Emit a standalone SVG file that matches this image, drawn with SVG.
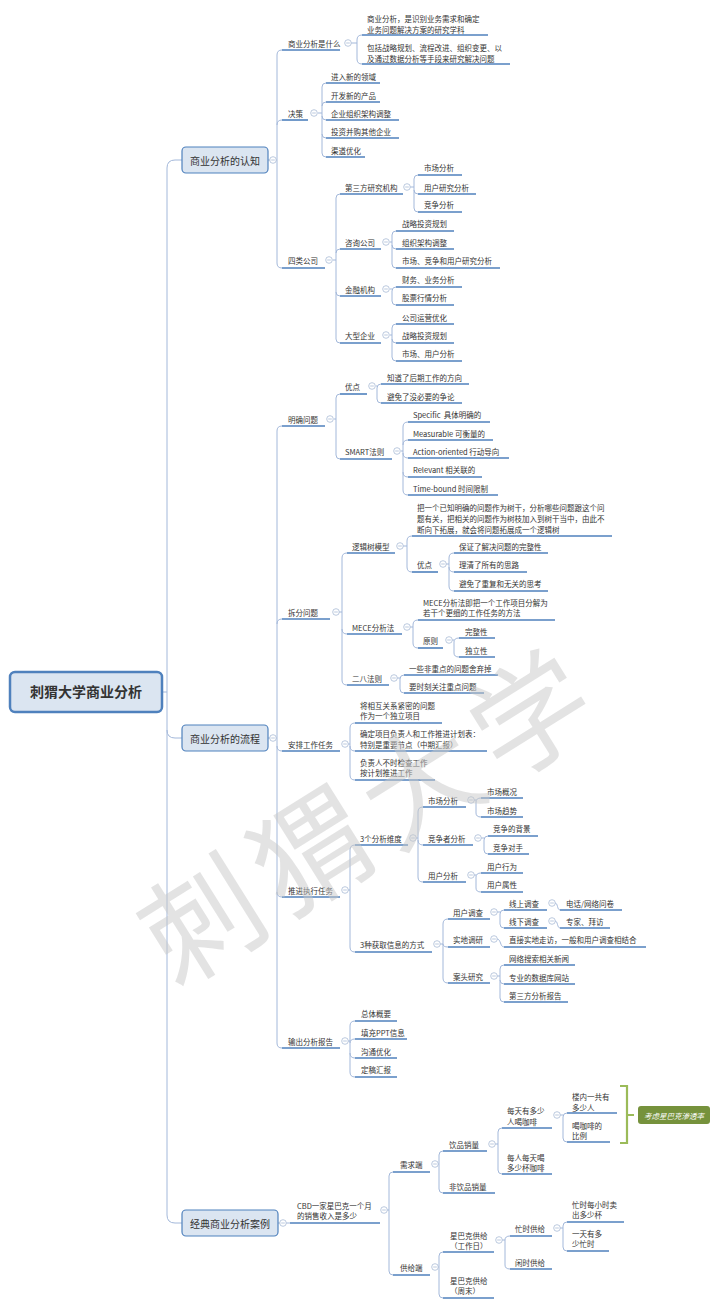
<svg xmlns="http://www.w3.org/2000/svg" width="720" height="1308" viewBox="0 0 720 1308">
<style>
.t{font-family:"Noto Sans CJK SC","Liberation Sans",sans-serif;font-size:7.5px;fill:#333;dominant-baseline:central}
.u{fill:none;stroke:#4f81bd;stroke-width:1.6}
.c{fill:none;stroke:#a3b8da;stroke-width:1}
.b{fill:#dbe5f1;stroke:#4f81bd;stroke-width:1.2}
.bt{font-family:"Noto Sans CJK SC",sans-serif;font-size:10px;fill:#333;text-anchor:middle;dominant-baseline:central}
.wm{font-family:"Noto Sans CJK SC",sans-serif;font-size:118px;fill:#c8c8c8;fill-opacity:0.5;text-anchor:middle;dominant-baseline:central;letter-spacing:11px}
</style>
<defs>
<g id="col"><circle r="3.3" fill="#fff" stroke="#aabbd5" stroke-width="0.8"/><path d="M-1.8 0H1.8" stroke="#aabbd5" stroke-width="0.8"/></g>
</defs>
<rect width="720" height="1308" fill="#fff"/>

<g id="connectors" class="c">
<path d="M162,692H167 M182,160H175Q167,160 167,168V1215Q167,1223 175,1223H182 M167,730Q167,738 175,738H182"/>
<path d="M268,160H277 M282,50Q277,50 277,55V263Q277,268 282,268 M277,125Q277,120 282,120"/>
<path d="M351,43H357 M362,35Q357,35 357,40V59Q357,64 362,64"/>
<path d="M318,113H322 M326,83Q322,83 322,87V153Q322,157 326,157 M322,106Q322,102 326,102 M322,116Q322,120 326,120 M322,134Q322,138 326,138"/>
<path d="M333,260H336 M340,194Q336,194 336,198V339Q336,343 340,343 M336,253Q336,249 340,249 M336,292Q336,296 340,296"/>
<path d="M410,187H414 M418,175Q414,175 414,179V208Q414,212 418,212 M414,190Q414,194 418,194"/>
<path d="M390,242H392 M396,231Q392,231 392,235V264Q392,268 396,268 M392,245Q392,249 396,249"/>
<path d="M390,289H392 M396,287Q392,287 392,291V301Q392,305 396,305"/>
<path d="M390,335H392 M396,324Q392,324 392,328V357Q392,361 396,361 M392,339Q392,343 396,343"/>
<path d="M268,738H277 M282,426Q277,426 277,431V1043Q277,1048 282,1048 M277,624Q277,619 282,619 M277,746Q277,751 282,751 M277,892Q277,897 282,897"/>
<path d="M334,419H336 M340,394Q336,394 336,398V455Q336,459 340,459"/>
<path d="M376,386H377 M381,384Q377,384 377,388V399Q377,403 381,403"/>
<path d="M401,451H403 M408,422Q403,422 403,427V490Q403,495 408,495 M403,445Q403,440 408,440 M403,453Q403,458 408,458 M403,472Q403,477 408,477"/>
<path d="M339,612H342 M347,553Q342,553 342,558V680Q342,685 347,685 M342,629Q342,634 347,634"/>
<path d="M403,546H407 M412,536Q407,536 407,541V567Q407,572 412,572"/>
<path d="M446,564H449 M454,553Q449,553 449,558V586Q449,591 454,591 M449,567Q449,572 454,572"/>
<path d="M410,627H413 M418,620Q413,620 413,625V643Q413,648 418,648"/>
<path d="M452,640H454 M459,638Q454,638 454,642V653Q454,657 459,657"/>
<path d="M397,678H400 M404,675Q400,675 400,679V689Q400,693 404,693"/>
<path d="M348,744H350 M355,723Q350,723 350,728V775Q350,780 355,780 M350,746Q350,751 355,751"/>
<path d="M348,890H350 M355,845Q350,845 350,850V947Q350,952 355,952"/>
<path d="M416,838H418 M423,807Q418,807 418,812V877Q418,882 423,882 M418,840Q418,845 423,845"/>
<path d="M474,800H476 M481,798Q476,798 476,802V813Q476,817 481,817"/>
<path d="M481,838H484 M488,836Q484,836 484,840V850Q484,854 488,854"/>
<path d="M474,875H476 M481,873Q476,873 476,877V888Q476,892 481,892"/>
<path d="M440,944H443 M448,919Q443,919 443,924V978Q443,983 448,983 M443,944Q443,947 448,947"/>
<path d="M497,912H500 M504,910Q500,910 500,914V924Q500,928 504,928"/>
<path d="M555,903C558,903 557,910 560,910"/>
<path d="M555,921C558,921 557,928 560,928"/>
<path d="M497,939C501,939 500,947 504,947"/>
<path d="M497,976H500 M504,965Q500,965 500,969V998Q500,1002 504,1002 M500,980Q500,984 504,984"/>
<path d="M348,1041H350 M355,1021Q350,1021 350,1026V1072Q350,1077 355,1077 M350,1043Q350,1039 355,1039 M350,1053Q350,1058 355,1058"/>
<path d="M278,1223H290"/>
<path d="M387,1210H389 M393,1172Q389,1172 389,1176V1271Q389,1275 393,1275"/>
<path d="M438,1164H439 M443,1151Q439,1151 439,1155V1189Q439,1193 443,1193"/>
<path d="M495,1144H498 M502,1128Q498,1128 498,1132V1170Q498,1174 502,1174"/>
<path d="M560,1115H563 M567,1113Q563,1113 563,1117V1138Q563,1142 567,1142"/>
<path d="M438,1267H439 M443,1252Q439,1252 439,1256V1294Q439,1298 443,1298"/>
<path d="M502,1240H505 M510,1236Q505,1236 505,1240V1265Q505,1269 510,1269"/>
<path d="M560,1228H563 M567,1222Q563,1222 563,1226V1247Q563,1251 567,1251"/>
</g>

<g id="root"><rect x="10" y="672" width="152" height="40" rx="5" fill="#dbe5f1" stroke="#4f81bd" stroke-width="2.5"/><text class="bt" x="86" y="691" style="font-size:14px;font-weight:bold">刺猬大学商业分析</text></g>

<g id="n-a"><rect class="b" x="182" y="147" width="86" height="26" rx="4"/><text class="bt" x="225" y="160">商业分析的认知</text><use href="#col" x="273" y="160"/></g>
<g id="n-a1"><text class="t" x="288" y="43">商业分析是什么</text><path class="u" d="M282,50H340"/><use href="#col" x="348" y="43"/></g>
<g id="n-a1-1"><text class="t"><tspan x="367" y="18">商业分析，是识别业务需求和确定</tspan><tspan x="367" y="29">业务问题解决方案的研究学科</tspan></text><path class="u" d="M362,35H488"/></g>
<g id="n-a1-2"><text class="t"><tspan x="367" y="47">包括战略规划、流程改进、组织变更、以</tspan><tspan x="367" y="58">及通过数据分析等手段来研究解决问题</tspan></text><path class="u" d="M362,64H510"/></g>
<g id="n-a2"><text class="t" x="288" y="113">决策</text><path class="u" d="M282,120H308"/><use href="#col" x="314" y="113"/></g>
<g id="n-a2-1"><text class="t" x="331" y="76">进入新的领域</text><path class="u" d="M326,83H380"/></g>
<g id="n-a2-2"><text class="t" x="331" y="95">开发新的产品</text><path class="u" d="M326,102H380"/></g>
<g id="n-a2-3"><text class="t" x="331" y="113">企业组织架构调整</text><path class="u" d="M326,120H399"/></g>
<g id="n-a2-4"><text class="t" x="331" y="131">投资并购其他企业</text><path class="u" d="M326,138H399"/></g>
<g id="n-a2-5"><text class="t" x="331" y="150">渠道优化</text><path class="u" d="M326,157H365"/></g>
<g id="n-a3"><text class="t" x="288" y="260">四类公司</text><path class="u" d="M282,268H325"/><use href="#col" x="329" y="260"/></g>
<g id="n-a3-1"><text class="t" x="345" y="187">第三方研究机构</text><path class="u" d="M340,194H403"/><use href="#col" x="407" y="187"/></g>
<g id="n-a3-1-1"><text class="t" x="424" y="167">市场分析</text><path class="u" d="M418,175H462"/></g>
<g id="n-a3-1-2"><text class="t" x="424" y="187">用户研究分析</text><path class="u" d="M418,194H476"/></g>
<g id="n-a3-1-3"><text class="t" x="424" y="204">竞争分析</text><path class="u" d="M418,212H462"/></g>
<g id="n-a3-2"><text class="t" x="345" y="242">咨询公司</text><path class="u" d="M340,249H381"/><use href="#col" x="386" y="242"/></g>
<g id="n-a3-2-1"><text class="t" x="402" y="223">战略投资规划</text><path class="u" d="M396,231H454"/></g>
<g id="n-a3-2-2"><text class="t" x="402" y="242">组织架构调整</text><path class="u" d="M396,249H454"/></g>
<g id="n-a3-2-3"><text class="t" x="402" y="260">市场、竞争和用户研究分析</text><path class="u" d="M396,268H500"/></g>
<g id="n-a3-3"><text class="t" x="345" y="289">金融机构</text><path class="u" d="M340,296H381"/><use href="#col" x="386" y="289"/></g>
<g id="n-a3-3-1"><text class="t" x="402" y="279">财务、业务分析</text><path class="u" d="M396,287H462"/></g>
<g id="n-a3-3-2"><text class="t" x="402" y="297">股票行情分析</text><path class="u" d="M396,305H454"/></g>
<g id="n-a3-4"><text class="t" x="345" y="335">大型企业</text><path class="u" d="M340,343H381"/><use href="#col" x="386" y="335"/></g>
<g id="n-a3-4-1"><text class="t" x="402" y="317">公司运营优化</text><path class="u" d="M396,324H454"/></g>
<g id="n-a3-4-2"><text class="t" x="402" y="335">战略投资规划</text><path class="u" d="M396,343H454"/></g>
<g id="n-a3-4-3"><text class="t" x="402" y="353">市场、用户分析</text><path class="u" d="M396,361H462"/></g>

<g id="n-b"><rect class="b" x="182" y="725" width="86" height="26" rx="4"/><text class="bt" x="225" y="738">商业分析的流程</text><use href="#col" x="273" y="738"/></g>
<g id="n-b1"><text class="t" x="288" y="419">明确问题</text><path class="u" d="M282,426H325"/><use href="#col" x="330" y="419"/></g>
<g id="n-b1-1"><text class="t" x="345" y="386">优点</text><path class="u" d="M340,394H367"/><use href="#col" x="372" y="386"/></g>
<g id="n-b1-1-1"><text class="t" x="387" y="377">知道了后期工作的方向</text><path class="u" d="M381,384H469"/></g>
<g id="n-b1-1-2"><text class="t" x="387" y="396">避免了没必要的争论</text><path class="u" d="M381,403H462"/></g>
<g id="n-b1-2"><text class="t" x="345" y="451">SMART法则</text><path class="u" d="M340,459H392"/><use href="#col" x="397" y="451"/></g>
<g id="n-b1-2-1"><text class="t" x="413" y="414">Specific&#160; 具体明确的</text><path class="u" d="M408,422H490"/></g>
<g id="n-b1-2-2"><text class="t" x="413" y="433">Measurable 可衡量的</text><path class="u" d="M408,440H493"/></g>
<g id="n-b1-2-3"><text class="t" x="413" y="451">Action-oriented 行动导向</text><path class="u" d="M408,458H509"/></g>
<g id="n-b1-2-4"><text class="t" x="413" y="469">Relevant 相关联的</text><path class="u" d="M408,477H482"/></g>
<g id="n-b1-2-5"><text class="t" x="413" y="488">Time-bound 时间限制</text><path class="u" d="M408,495H498"/></g>
<g id="n-b2"><text class="t" x="288" y="612">拆分问题</text><path class="u" d="M282,619H330"/><use href="#col" x="336" y="612"/></g>
<g id="n-b2-1"><text class="t" x="352" y="546">逻辑树模型</text><path class="u" d="M347,553H395"/><use href="#col" x="400" y="546"/></g>
<g id="n-b2-1-1"><text class="t"><tspan x="417" y="507">把一个已知明确的问题作为树干，分析哪些问题跟这个问</tspan><tspan x="417" y="518">题有关，把相关的问题作为树枝加入到树干当中，由此不</tspan><tspan x="417" y="529">断向下拓展，就会将问题拓展成一个逻辑树</tspan></text><path class="u" d="M412,536H612"/></g>
<g id="n-b2-1-2"><text class="t" x="417" y="564">优点</text><path class="u" d="M412,572H438"/><use href="#col" x="443" y="564"/></g>
<g id="n-b2-1-2-1"><text class="t" x="459" y="546">保证了解决问题的完整性</text><path class="u" d="M454,553H548"/></g>
<g id="n-b2-1-2-2"><text class="t" x="459" y="564">理清了所有的思路</text><path class="u" d="M454,572H527"/></g>
<g id="n-b2-1-2-3"><text class="t" x="459" y="583">避免了重复和无关的思考</text><path class="u" d="M454,591H548"/></g>
<g id="n-b2-2"><text class="t" x="352" y="627">MECE分析法</text><path class="u" d="M347,634H402"/><use href="#col" x="407" y="627"/></g>
<g id="n-b2-2-1"><text class="t"><tspan x="423" y="602">MECE分析法即把一个工作项目分解为</tspan><tspan x="423" y="612">若干个更细的工作任务的方法</tspan></text><path class="u" d="M418,620H555"/></g>
<g id="n-b2-2-2"><text class="t" x="423" y="640">原则</text><path class="u" d="M418,648H443"/><use href="#col" x="449" y="640"/></g>
<g id="n-b2-2-2-1"><text class="t" x="465" y="631">完整性</text><path class="u" d="M459,638H495"/></g>
<g id="n-b2-2-2-2"><text class="t" x="465" y="650">独立性</text><path class="u" d="M459,657H495"/></g>
<g id="n-b2-3"><text class="t" x="352" y="678">二八法则</text><path class="u" d="M347,685H389"/><use href="#col" x="394" y="678"/></g>
<g id="n-b2-3-1"><text class="t" x="409" y="668">一些非重点的问题舍弃掉</text><path class="u" d="M404,675H498"/></g>
<g id="n-b2-3-2"><text class="t" x="409" y="686">要时刻关注重点问题</text><path class="u" d="M404,693H484"/></g>
<g id="n-b3"><text class="t" x="288" y="744">安排工作任务</text><path class="u" d="M282,751H340"/><use href="#col" x="345" y="744"/></g>
<g id="n-b3-1"><text class="t"><tspan x="360" y="705">将相互关系紧密的问题</tspan><tspan x="360" y="715">作为一个独立项目</tspan></text><path class="u" d="M355,723H442"/></g>
<g id="n-b3-2"><text class="t"><tspan x="360" y="733">确定项目负责人和工作推进计划表：</tspan><tspan x="360" y="744">特别是重要节点（中期汇报）</tspan></text><path class="u" d="M355,751H487"/></g>
<g id="n-b3-3"><text class="t"><tspan x="360" y="762">负责人不时检查工作</tspan><tspan x="360" y="772">按计划推进工作</tspan></text><path class="u" d="M355,780H435"/></g>
<g id="n-b4"><text class="t" x="288" y="890">推进执行任务</text><path class="u" d="M282,897H340"/><use href="#col" x="345" y="890"/></g>
<g id="n-b4-1"><text class="t" x="360" y="838">3个分析维度</text><path class="u" d="M355,845H408"/><use href="#col" x="413" y="838"/></g>
<g id="n-b4-1-1"><text class="t" x="428" y="800">市场分析</text><path class="u" d="M423,807H466"/><use href="#col" x="471" y="800"/></g>
<g id="n-b4-1-1-1"><text class="t" x="487" y="791">市场概况</text><path class="u" d="M481,798H523"/></g>
<g id="n-b4-1-1-2"><text class="t" x="487" y="810">市场趋势</text><path class="u" d="M481,817H523"/></g>
<g id="n-b4-1-2"><text class="t" x="428" y="838">竞争者分析</text><path class="u" d="M423,845H473"/><use href="#col" x="478" y="838"/></g>
<g id="n-b4-1-2-1"><text class="t" x="493" y="828">竞争的背景</text><path class="u" d="M488,836H538"/></g>
<g id="n-b4-1-2-2"><text class="t" x="493" y="847">竞争对手</text><path class="u" d="M488,854H529"/></g>
<g id="n-b4-1-3"><text class="t" x="428" y="875">用户分析</text><path class="u" d="M423,882H466"/><use href="#col" x="471" y="875"/></g>
<g id="n-b4-1-3-1"><text class="t" x="487" y="866">用户行为</text><path class="u" d="M481,873H523"/></g>
<g id="n-b4-1-3-2"><text class="t" x="487" y="884">用户属性</text><path class="u" d="M481,892H523"/></g>
<g id="n-b4-2"><text class="t" x="360" y="944">3种获取信息的方式</text><path class="u" d="M355,952H432"/><use href="#col" x="437" y="944"/></g>
<g id="n-b4-2-1"><text class="t" x="453" y="912">用户调查</text><path class="u" d="M448,919H490"/><use href="#col" x="494" y="912"/></g>
<g id="n-b4-2-1-1"><text class="t" x="509" y="903">线上调查</text><path class="u" d="M504,910H547"/><use href="#col" x="552" y="903"/></g>
<g id="n-b4-2-1-1-1"><text class="t" x="566" y="903">电话/网络问卷</text><path class="u" d="M560,910H622"/></g>
<g id="n-b4-2-1-2"><text class="t" x="509" y="921">线下调查</text><path class="u" d="M504,928H547"/><use href="#col" x="552" y="921"/></g>
<g id="n-b4-2-1-2-1"><text class="t" x="566" y="921">专家、拜访</text><path class="u" d="M560,928H610"/></g>
<g id="n-b4-2-2"><text class="t" x="453" y="939">实地调研</text><path class="u" d="M448,947H490"/><use href="#col" x="494" y="939"/></g>
<g id="n-b4-2-2-1"><text class="t" x="509" y="939">直接实地走访，一般和用户调查相结合</text><path class="u" d="M504,947H646"/></g>
<g id="n-b4-2-3"><text class="t" x="453" y="976">案头研究</text><path class="u" d="M448,983H490"/><use href="#col" x="494" y="976"/></g>
<g id="n-b4-2-3-1"><text class="t" x="509" y="958">网络搜索相关新闻</text><path class="u" d="M504,965H575"/></g>
<g id="n-b4-2-3-2"><text class="t" x="509" y="977">专业的数据库网站</text><path class="u" d="M504,984H575"/></g>
<g id="n-b4-2-3-3"><text class="t" x="509" y="995">第三方分析报告</text><path class="u" d="M504,1002H568"/></g>
<g id="n-b5"><text class="t" x="288" y="1041">输出分析报告</text><path class="u" d="M282,1048H340"/><use href="#col" x="345" y="1041"/></g>
<g id="n-b5-1"><text class="t" x="361" y="1013">总体概要</text><path class="u" d="M355,1021H397"/></g>
<g id="n-b5-2"><text class="t" x="361" y="1032">填充PPT信息</text><path class="u" d="M355,1039H407"/></g>
<g id="n-b5-3"><text class="t" x="361" y="1051">沟通优化</text><path class="u" d="M355,1058H397"/></g>
<g id="n-b5-4"><text class="t" x="361" y="1069">定稿汇报</text><path class="u" d="M355,1077H397"/></g>

<g id="n-c"><rect class="b" x="182" y="1210" width="96" height="26" rx="4"/><text class="bt" x="230" y="1223">经典商业分析案例</text><use href="#col" x="283" y="1223"/></g>
<g id="n-c1"><text class="t"><tspan x="297" y="1205">CBD一家星巴克一个月</tspan><tspan x="297" y="1215">的销售收入是多少</tspan></text><path class="u" d="M290,1223H380"/><use href="#col" x="384" y="1210"/></g>
<g id="n-c1-1"><text class="t" x="400" y="1164">需求端</text><path class="u" d="M393,1172H430"/><use href="#col" x="435" y="1164"/></g>
<g id="n-c1-1-1"><text class="t" x="449" y="1144">饮品销量</text><path class="u" d="M443,1151H487"/><use href="#col" x="492" y="1144"/></g>
<g id="n-c1-1-1-1"><text class="t"><tspan x="507" y="1110">每天有多少</tspan><tspan x="507" y="1121">人喝咖啡</tspan></text><path class="u" d="M502,1128H552"/><use href="#col" x="557" y="1115"/></g>
<g id="n-c1-1-1-1-1"><text class="t"><tspan x="572" y="1096">楼内一共有</tspan><tspan x="572" y="1107">多少人</tspan></text><path class="u" d="M567,1113H617"/></g>
<g id="n-c1-1-1-1-2"><text class="t"><tspan x="572" y="1125">喝咖啡的</tspan><tspan x="572" y="1135">比例</tspan></text><path class="u" d="M567,1142H610"/></g>
<g id="n-c1-1-1-2"><text class="t"><tspan x="507" y="1157">每人每天喝</tspan><tspan x="507" y="1167">多少杯咖啡</tspan></text><path class="u" d="M502,1174H552"/></g>
<g id="n-c1-1-2"><text class="t" x="449" y="1186">非饮品销量</text><path class="u" d="M443,1193H495"/></g>
<g id="n-c1-2"><text class="t" x="400" y="1267">供给端</text><path class="u" d="M393,1275H430"/><use href="#col" x="435" y="1267"/></g>
<g id="n-c1-2-1"><text class="t"><tspan x="450" y="1235">星巴克供给</tspan><tspan x="450" y="1245">（工作日）</tspan></text><path class="u" d="M443,1252H494"/><use href="#col" x="499" y="1240"/></g>
<g id="n-c1-2-1-1"><text class="t" x="515" y="1228">忙时供给</text><path class="u" d="M510,1236H552"/><use href="#col" x="557" y="1228"/></g>
<g id="n-c1-2-1-1-1"><text class="t"><tspan x="572" y="1204">忙时每小时卖</tspan><tspan x="572" y="1214">出多少杯</tspan></text><path class="u" d="M567,1222H624"/></g>
<g id="n-c1-2-1-1-2"><text class="t"><tspan x="572" y="1233">一天有多</tspan><tspan x="572" y="1243">少忙时</tspan></text><path class="u" d="M567,1251H609"/></g>
<g id="n-c1-2-1-2"><text class="t" x="515" y="1262">闲时供给</text><path class="u" d="M510,1269H552"/></g>
<g id="n-c1-2-2"><text class="t"><tspan x="450" y="1280">星巴克供给</tspan><tspan x="450" y="1290">（周末）</tspan></text><path class="u" d="M443,1298H494"/></g>

<g id="summary"><path d="M620,1086H627V1143H620 M627,1115H634" fill="none" stroke="#9bbb59" stroke-width="2.2"/><rect x="638" y="1106" width="72" height="18" rx="3" fill="#76923c"/><text class="t" x="674" y="1115" style="fill:#fff;font-style:italic;text-anchor:middle">考虑星巴克渗透率</text></g>

<text class="wm" x="367" y="808" transform="rotate(-32 367 808)">刺猬大学</text>
</svg>
